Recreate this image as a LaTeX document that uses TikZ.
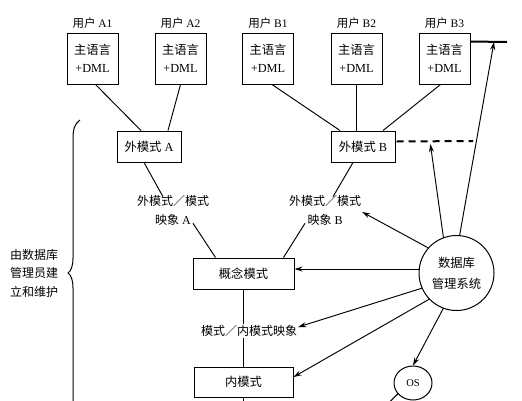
\documentclass[tikz,border=0pt]{standalone}
\usepackage{fontspec}
\setmainfont{Liberation Serif}
\newfontfamily\cjk{Noto Sans CJK SC}
\usetikzlibrary{calc,arrows.meta,shapes.geometric}
\begin{document}
\begin{tikzpicture}[x=1pt,y=-1pt,
  box/.style={draw,line width=1pt,inner sep=0pt,align=center,font=\fontsize{12.3}{18}\selectfont},
  ubox/.style={box,minimum width=51pt,minimum height=51pt},
  lbl/.style={inner sep=1pt,align=center,font=\fontsize{12}{19}\selectfont},
  ulbl/.style={inner sep=0pt,font=\fontsize{11.5}{13}\selectfont},
  ln/.style={line width=0.95pt},
  arr/.style={line width=0.95pt,-{Stealth[length=8pt,width=5pt]}}]
\useasboundingbox (0,0) rectangle (522,400);
% user boxes
\node[ubox] (A1) at (92.5,58.5) {{\cjk 主语言}\\+DML};
\node[ubox] (A2) at (180.5,58.5) {{\cjk 主语言}\\+DML};
\node[ubox] (B1) at (268,58.5) {{\cjk 主语言}\\+DML};
\node[ubox] (B2) at (356.5,58.5) {{\cjk 主语言}\\+DML};
\node[ubox] (B3) at (444.5,58.5) {{\cjk 主语言}\\+DML};
\node[ulbl] (uA1) at (92.5,23) {{\cjk 用户} A1};
\node[ulbl] (uA2) at (180.5,23) {{\cjk 用户} A2};
\node[ulbl] (uB1) at (268,23) {{\cjk 用户} B1};
\node[ulbl] (uB2) at (356.5,23) {{\cjk 用户} B2};
\node[ulbl] (uB3) at (444.5,23) {{\cjk 用户} B3};
% schema boxes
\node[box,minimum width=64pt,minimum height=31pt] (extA) at (149,146.5) {{\cjk 外模式} A};
\node[box,minimum width=64pt,minimum height=31pt] (extB) at (363,146.5) {{\cjk 外模式} B};
\node[box,minimum width=101pt,minimum height=31pt] (con) at (243.5,273.5) {\cjk 概念模式};
\node[box,minimum width=99pt,minimum height=30pt] (inn) at (243.5,382) {\cjk 内模式};
% mapping labels
\node[lbl] (mapA) at (173,210) {{\cjk 外模式／模式}\\{\cjk 映象} A};
\node[lbl] (mapB) at (325,210) {{\cjk 外模式／模式}\\{\cjk 映象} B};
\node[lbl] (map3) at (249,331) {\cjk 模式／内模式映象};
% DBMS and OS
\node[draw,circle,line width=1pt,minimum size=75pt,inner sep=0pt,align=center,font=\fontsize{12.3}{21}\selectfont] (dbms) at (456.5,273) {\cjk 数据库\\\cjk 管理系统};
\node[draw,ellipse,line width=1pt,minimum width=38pt,minimum height=34pt,inner sep=0pt,font=\fontsize{10.5}{12}\selectfont] (os) at (413,383) {OS};
% brace label
\node[lbl,font=\fontsize{12}{18.5}\selectfont] (admin) at (34,273) {\cjk 由数据库\\\cjk 管理员建\\\cjk 立和维护};
% coordinates
\coordinate (T) at (507,42);
\coordinate (D) at (473,141);
% connectors top
\draw[ln] ($(A1.south)+(3,0)$) -- ($(extA.north)+(-8,0)$);
\draw[ln] (A2.south) -- ($(extA.north)+(19,0)$);
\draw[ln] ($(B1.south)+(4,0)$) -- ($(extB.north)+(-23,0)$);
\draw[ln] (B2.south) -- (B2.south |- extB.north);
\draw[ln] ($(B3.south)+(-4,0)$) -- ($(extB.north)+(20,0)$);
\draw[line width=2pt] ($(B3.north east)+(0,9)$) -- (T);
\draw[line width=2pt,dash pattern=on 7pt off 5pt] ($(extB.east)+(1,-5)$) -- (D);
% schema to mappings
\draw[ln] ($(extA.south)+(-5,0)$) -- ($(mapA.north)+(-10,3)$);
\draw[ln] ($(mapA.south)+(20,-3)$) -- ($(con.north)+(-28,0)$);
\draw[ln] ($(extB.south)+(-10,0)$) -- ($(mapB.north)+(8,3)$);
\draw[ln] ($(mapB.south)+(-20,-3)$) -- ($(con.north)+(40,0)$);
\draw[ln] (con.south) -- (con.south |- map3.north);
\draw[ln] (con.south |- map3.south) -- (inn.north);
\draw[ln] (inn.south) -- ++(0,10);
% DBMS arrows
\draw[arr] ($(dbms.center)+(-13,-35)$) -- ($(extB.east)!0.45!(D)$);
\draw[arr] ($(dbms.center)+(3,-37)$) -- ($(T)+(-13,0)$);
\draw[arr] ($(dbms.center)+(-28,-25)$) -- ($(mapB.east)+(0,2)$);
\draw[arr] ($(dbms.center)+(-37,-4)$) -- (con.east |- 0,269);
\draw[arr] ($(dbms.center)+(-34,15)$) -- ($(map3.east)+(0,-4)$);
\draw[arr] ($(dbms.center)+(-27,26)$) -- ($(inn.east)+(0,-5)$);
\draw[arr] ($(dbms.center)+(-13,35)$) -- (os.north);
\draw[ln] ($(os.south west)+(-1,-2)$) -- ++(-9,9);
% brace
\draw[line width=1pt] (80,120) .. controls (74,124) and (73,130) .. (73,140)
  -- (73,258) .. controls (73,266) and (71,271) .. (68,273)
  .. controls (71,275) and (73,280) .. (73,288) -- (73,402);
\end{tikzpicture}
\end{document}
